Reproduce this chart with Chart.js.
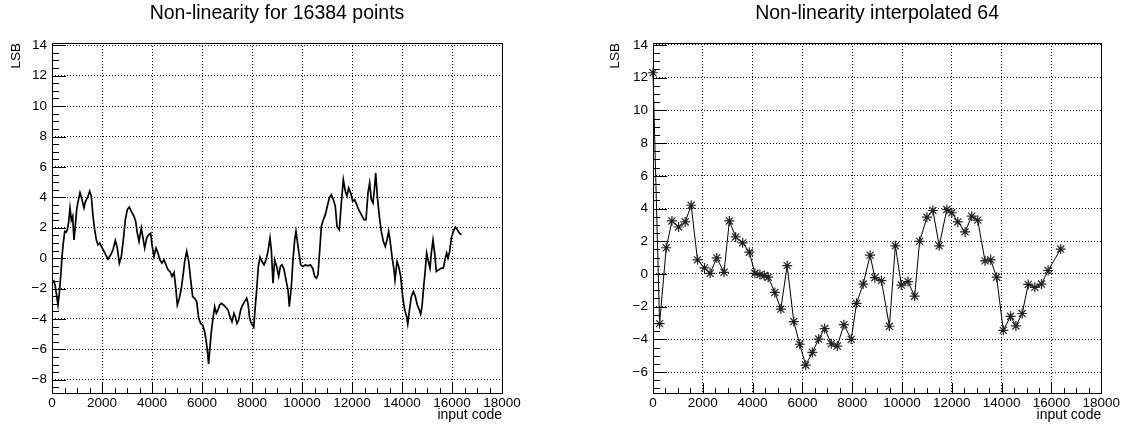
<!DOCTYPE html>
<html>
<head>
<meta charset="utf-8">
<title>Non-linearity</title>
<script src="https://cdn.jsdelivr.net/npm/chart.js@4.4.0/dist/chart.umd.min.js"></script>
<style>
    html, body { margin: 0; padding: 0; background: #fff; }
    #wrap { position: relative; width: 1122px; height: 424px; }
    canvas { position: absolute; top: 0; }
    #leftChart { left: 0; }
    #rightChart { left: 561px; }
</style>
</head>
<body>
<div id="wrap">
    <canvas id="leftChart" width="561" height="424"></canvas>
    <canvas id="rightChart" width="561" height="424"></canvas>
</div>
<script>
// Left panel: full trace (input code / LSB)
const fullCodes = [
    0, 80, 133, 187, 240, 293, 347, 400, 453, 507, 560, 613, 667, 720, 773, 827, 880, 933, 987, 1040,
    1120, 1200, 1280, 1333, 1440, 1507, 1573, 1640, 1707, 1773, 1840, 1907, 1973, 2080, 2173, 2240, 2347, 2440, 2533, 2613,
    2693, 2773, 2853, 2933, 3013, 3093, 3173, 3280, 3347, 3413, 3480, 3573, 3640, 3707, 3787, 3867, 3947, 4000, 4080, 4160,
    4240, 4307, 4400, 4480, 4560, 4640, 4720, 4800, 4880, 4947, 5013, 5093, 5173, 5253, 5307, 5387, 5467, 5547, 5627, 5707,
    5787, 5867, 5947, 6027, 6107, 6173, 6227, 6264, 6320, 6373, 6440, 6507, 6573, 6640, 6707, 6773, 6867, 6947, 7040, 7120,
    7200, 7280, 7333, 7400, 7467, 7547, 7627, 7707, 7787, 7840, 7907, 7973, 8070, 8120, 8187, 8253, 8320, 8400, 8480, 8560,
    8640, 8720, 8773, 8840, 8907, 8987, 9067, 9133, 9200, 9280, 9360, 9440, 9493, 9573, 9640, 9707, 9760, 9813, 9880, 9947,
    10040, 10133, 10240, 10333, 10427, 10507, 10573, 10640, 10720, 10773, 10853, 10933, 11013, 11093, 11173, 11253, 11333, 11400, 11493, 11573,
    11653, 11733, 11800, 11867, 11947, 12027, 12107, 12187, 12267, 12373, 12480, 12560, 12640, 12707, 12773, 12840, 12907, 12947, 13013, 13093,
    13173, 13253, 13333, 13400, 13467, 13520, 13600, 13680, 13720, 13800, 13867, 13947, 14027, 14107, 14187, 14230, 14307, 14373, 14453, 14533,
    14613, 14693, 14747, 14800, 14867, 14920, 14987, 15040, 15120, 15173, 15240, 15307, 15373, 15467, 15573, 15653, 15733, 15787, 15840, 15907,
    15973, 16053, 16133, 16213, 16293, 16373
];
const fullLsb = [
    -1.6, -1.5, -1.87, -2.5, -3.08, -2.3, -1.2, 0.1, 1.0, 1.76, 1.7, 1.87, 2.4, 3.3, 2.5, 2.75, 1.2, 2.1, 3.2, 3.7,
    4.3, 3.85, 3.3, 3.7, 4.07, 4.4, 4.07, 2.75, 1.87, 1.2, 0.88, 1.0, 0.77, 0.44, 0.15, -0.07, 0.22, 0.55, 1.16, 0.66,
    -0.33, 0.11, 1.2, 2.53, 3.19, 3.36, 3.08, 2.75, 2.42, 1.65, 1.1, 1.98, 1.32, 0.66, 1.32, 1.54, 1.65, 0.88, 0.11, 0.66,
    0.33, -0.1, -0.33, -0.1, -0.44, -0.77, -0.88, -1.2, -0.95, -1.87, -3.08, -2.64, -1.98, -0.99, -0.22, 0.44, -0.22, -1.43, -2.53, -2.64,
    -2.86, -3.96, -4.29, -4.4, -4.84, -5.5, -6.26, -6.95, -5.82, -4.84, -3.96, -3.19, -3.63, -3.4, -3.08, -2.97, -3.08, -3.23, -3.4, -3.85,
    -4.18, -3.63, -3.85, -4.29, -4.07, -3.4, -3.08, -2.86, -2.64, -2.97, -3.96, -4.29, -4.54, -3.4, -2.09, -0.55, 0.07, -0.22, -0.44, -0.11,
    0.44, 1.32, 0.55, -1.65, -0.11, -0.55, -1.2, -0.55, -0.44, -0.73, -1.43, -2.09, -3.19, -1.87, -0.11, 1.2, 1.76, 1.1, 0.33, -0.44,
    -0.55, -0.44, -0.5, -0.44, -0.66, -1.2, -1.32, -1.1, 0.77, 2.09, 2.53, 2.86, 3.41, 3.96, 4.18, 3.85, 3.41, 2.09, 1.87, 3.63,
    5.16, 4.4, 4.07, 4.62, 4.29, 3.74, 3.85, 3.52, 3.19, 2.86, 2.53, 2.53, 4.29, 4.95, 3.85, 3.63, 4.73, 5.6, 4.07, 2.75,
    1.76, 1.1, 0.77, 1.2, 1.76, 1.2, 0.11, -0.77, -1.43, -0.22, -0.55, -1.2, -2.53, -3.4, -3.85, -4.32, -3.3, -2.53, -2.2, -2.53,
    -3.08, -3.4, -3.67, -3.19, -1.87, -0.99, 0.33, -0.11, -0.66, 0.33, 1.2, 0.33, -0.88, -0.77, -0.66, -0.66, 0, 0.33, 0, 0.44,
    1.32, 1.76, 2.04, 1.87, 1.65, 1.54
];

// Right panel: 64 interpolated points
const interpCodes = [
    0, 264, 532, 760, 1027, 1293, 1533, 1787, 2067, 2293, 2560, 2853, 3067, 3320, 3600, 3867, 4093, 4293, 4467, 4627,
    4893, 5133, 5387, 5653, 5893, 6133, 6400, 6653, 6893, 7160, 7400, 7667, 7960, 8173, 8440, 8720, 8907, 9173, 9493, 9733,
    9973, 10240, 10507, 10707, 11000, 11240, 11493, 11800, 12000, 12240, 12533, 12800, 13040, 13333, 13560, 13800, 14067, 14360, 14573, 14827,
    15067, 15333, 15600, 15867, 16373
];
const interpLsb = [
    12.3, -3.04, 1.6, 3.24, 2.87, 3.18, 4.2, 0.86, 0.37, 0.04, 0.98, 0.1, 3.24, 2.26, 1.9, 1.33, 0.04, -0.04, -0.1, -0.2,
    -1.13, -2.15, 0.51, -2.91, -4.3, -5.58, -4.8, -3.98, -3.34, -4.27, -4.41, -3.1, -4.0, -1.8, -0.62, 1.15, -0.23, -0.41, -3.2, 1.72,
    -0.68, -0.47, -1.36, 1.99, 3.47, 3.88, 1.72, 3.94, 3.74, 3.18, 2.57, 3.53, 3.29, 0.8, 0.86, -0.2, -3.45, -2.59, -3.18, -2.42,
    -0.64, -0.82, -0.62, 0.21, 1.52
];

const FONT = 'Liberation Sans, Arial, Helvetica, sans-serif';

// ROOT-style frame with inward ticks (major + minor)
const rootFrame = {
    id: 'rootFrame',
    afterDraw(chart) {
        const { ctx, chartArea: a, scales: { x, y } } = chart;
        ctx.save();
        ctx.strokeStyle = '#000';
        ctx.lineWidth = 1;
        ctx.beginPath();
        for (let v = x.min; v <= x.max + 1e-6; v += 500) {
            const px = Math.round(x.getPixelForValue(v)) + 0.5;
            const len = v % 2000 === 0 ? 10 : 5;
            ctx.moveTo(px, a.bottom);
            ctx.lineTo(px, a.bottom - len);
        }
        for (let v = Math.ceil(y.min * 2) / 2; v <= y.max + 1e-6; v += 0.5) {
            const py = Math.round(y.getPixelForValue(v)) + 0.5;
            const len = Math.abs(v % 2) < 1e-6 ? 14 : 7;
            ctx.moveTo(a.left, py);
            ctx.lineTo(a.left + len, py);
        }
        ctx.stroke();
        ctx.strokeRect(Math.round(a.left) + 0.5, Math.round(a.top) + 0.5,
            Math.round(a.right - a.left), Math.round(a.bottom - a.top));
        ctx.restore();
    }
};

function tickLabel(v) {
    return v < 0 ? '\u2212' + Math.abs(v) : String(v);
}

function makeChart(id, opts) {
    const points = opts.xs.map((x, i) => ({ x: x, y: opts.ys[i] }));
    return new Chart(document.getElementById(id), {
        type: 'line',
        data: { datasets: [Object.assign({ data: points }, opts.style)] },
        options: {
            responsive: false,
            animation: false,
            layout: { padding: { left: 0, right: opts.rightPad, top: 0, bottom: 0 } },
            plugins: {
                legend: { display: false },
                tooltip: { enabled: false },
                title: {
                    display: true,
                    text: opts.title,
                    fullSize: false,
                    color: '#000',
                    font: { family: FONT, size: 19.5, weight: 'normal' },
                    padding: { top: 1.5, bottom: 18.1 }
                }
            },
            scales: {
                x: {
                    type: 'linear',
                    min: 0,
                    max: 18000,
                    afterFit: s => { s.height = 31; },
                    ticks: {
                        stepSize: 2000,
                        includeBounds: false,
                        padding: 2,
                        color: '#000',
                        maxRotation: 0,
                        font: { family: FONT, size: 13.5 },
                        callback: tickLabel
                    },
                    grid: { color: '#000', lineWidth: 1, drawTicks: false },
                    border: { display: false, dash: [1, 2] },
                    title: {
                        display: true,
                        text: 'input code',
                        align: 'end',
                        color: '#000',
                        padding: 0,
                        font: { family: FONT, size: 14 }
                    }
                },
                y: {
                    min: opts.yMin,
                    max: opts.yMax,
                    afterFit: s => { s.width = opts.yWidth; },
                    ticks: {
                        stepSize: 2,
                        includeBounds: false,
                        padding: 5,
                        color: '#000',
                        font: { family: FONT, size: 13.5 },
                        callback: tickLabel
                    },
                    grid: { color: '#000', lineWidth: 1, drawTicks: false },
                    border: { display: false, dash: [1, 2] },
                    title: {
                        display: true,
                        text: 'LSB',
                        align: 'end',
                        color: '#000',
                        padding: { top: opts.lsbPad, bottom: 0 },
                        font: { family: FONT, size: 13.5 }
                    }
                }
            }
        },
        plugins: [rootFrame]
    });
}

makeChart('leftChart', {
    title: 'Non-linearity for 16384 points',
    xs: fullCodes,
    ys: fullLsb,
    yMin: -8.87,
    yMax: 14.15,
    yWidth: 52,
    rightPad: 59,
    lsbPad: 8.6,
    style: {
        borderColor: '#000',
        borderWidth: 1.7,
        pointRadius: 0,
        tension: 0,
        fill: false
    }
});

makeChart('rightChart', {
    title: 'Non-linearity interpolated 64',
    xs: interpCodes,
    ys: interpLsb,
    yMin: -7.28,
    yMax: 14.12,
    yWidth: 92,
    rightPad: 19,
    lsbPad: 46,
    style: {
        borderColor: '#000',
        borderWidth: 1,
        pointStyle: 'star',
        pointRadius: 5,
        pointBorderColor: '#222',
        pointBackgroundColor: '#000',
        pointBorderWidth: 1.2,
        tension: 0,
        fill: false,
        clip: 8
    }
});
</script>
</body>
</html>
